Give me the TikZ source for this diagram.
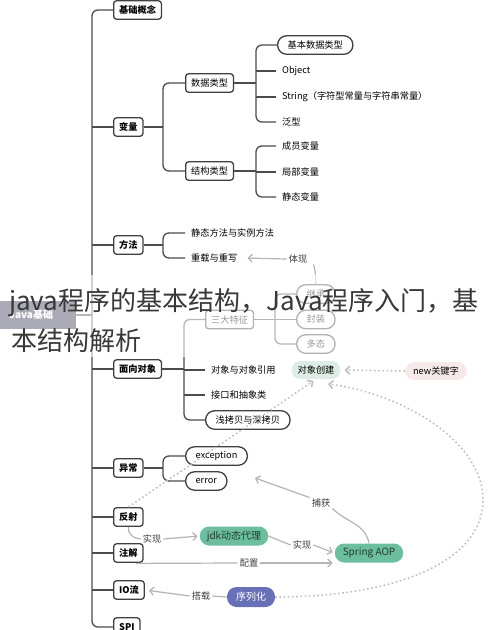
\documentclass[tikz,border=0pt]{standalone}
\usepackage{fontspec}
\setmainfont{Noto Sans CJK SC}
\usetikzlibrary{arrows.meta,calc}
\definecolor{treeline}{HTML}{4C4C4C}
\definecolor{boxline}{HTML}{404040}
\definecolor{gline}{HTML}{B4B4B4}
\definecolor{dotc}{HTML}{BDBDBD}
\definecolor{lbl}{HTML}{3E3E3E}
\definecolor{aopgreen}{HTML}{6DBE9E}
\definecolor{aoptext}{HTML}{1F3D30}
\definecolor{serblue}{HTML}{6870B8}
\definecolor{objgreen}{HTML}{DDEDE5}
\definecolor{newpink}{HTML}{F5E9E9}
\definecolor{rootfill}{HTML}{2E2E4E}
\definecolor{wmtext}{HTML}{383838}
\begin{document}
\begin{tikzpicture}[x=1pt,y=-1pt,
  font=\fontsize{9.2}{11}\selectfont,
  tree/.style={draw=treeline,line width=1.3pt,rounded corners=6pt},
  lvlbox/.style={draw=boxline,line width=1.3pt,rounded corners=3pt,fill=white,
    inner xsep=5.5pt,inner ysep=0pt,minimum height=18.5pt,anchor=west,
    font=\fontsize{9.2}{11}\selectfont\bfseries},
  subbox/.style={draw=boxline,line width=1.3pt,rounded corners=3pt,fill=white,
    inner xsep=5.5pt,inner ysep=0pt,minimum height=18.5pt,anchor=west},
  pillbox/.style={draw=boxline,line width=1.3pt,rounded corners=9pt,fill=white,
    inner xsep=10pt,inner ysep=0pt,minimum height=18.5pt,anchor=west},
  leaftxt/.style={inner xsep=6pt,inner ysep=1pt,anchor=west},
  lbltxt/.style={text=lbl,inner xsep=2pt,inner ysep=1pt},
  softpill/.style={rounded corners=9pt,inner xsep=6pt,inner ysep=0pt,minimum height=18pt},
  colpill/.style={rounded corners=9.5pt,inner xsep=7pt,inner ysep=0pt,minimum height=19pt,
    font=\fontsize{10}{12}\selectfont},
  gl/.style={draw=gline,line width=1.2pt},
  garrow/.style={draw=gline,line width=1.2pt,-{Straight Barb[length=4pt,width=8pt]},shorten >=2pt},
  dotarr/.style={draw=dotc,line width=1.5pt,dash pattern=on 1.6pt off 2.6pt,
    -{Straight Barb[length=4pt,width=8pt]}}
]
\useasboundingbox (0,0) rectangle (490,630);
\fill[white] (0,0) rectangle (490,630);

% ---- root and level 1
\node[fill=rootfill,text=white,anchor=west,minimum width=70pt,minimum height=28pt,
  inner xsep=9pt,align=left,font=\fontsize{10}{12}\selectfont\bfseries] (root) at (0,315) {Java基础\hspace{14pt}};
\coordinate (J0) at (92,315);
\node[lvlbox] (jcgn) at (113,10) {基础概念};
\node[lvlbox] (bl) at (113,127) {变量};
\node[lvlbox] (ff) at (113,245) {方法};
\node[lvlbox] (mx) at (113,369) {面向对象};
\node[lvlbox] (yc) at (113,468) {异常};
\node[lvlbox] (fs) at (113,517) {反射};
\node[lvlbox] (zj) at (113,553) {注解};
\node[lvlbox] (io) at (113,590) {IO流};
\node[lvlbox] (spi) at (113,627) {SPI};

\draw[tree] (root.east) -- (J0);
\draw[tree] (jcgn.west) -| (J0) |- (spi.west);
\foreach \n in {bl,ff,mx,yc,fs,zj,io}{\draw[tree] (J0 |- \n.west) -- (\n.west);}

% ---- 变量
\coordinate (Jbl) at (163,127);
\node[subbox] (sjlx) at (185,83) {数据类型};
\node[subbox] (jglx) at (185,171) {结构类型};
\draw[tree] (bl.east) -- (Jbl);
\draw[tree] (sjlx.west) -| (Jbl) |- (jglx.west);

\coordinate (Jsj) at (256,83);
\node[pillbox] (jbsj) at (277,45) {基本数据类型};
\node[leaftxt] (obj) at (276,71) {Object};
\node[leaftxt] (str) at (276,97) {String（字符型常量与字符串常量）};
\node[leaftxt] (fx) at (276,122) {泛型};
\draw[tree] (sjlx.east) -- (Jsj);
\draw[tree] (jbsj.west) -| (Jsj) |- (fx.west);
\draw[tree] (Jsj |- obj.west) -- (obj.west);
\draw[tree] (Jsj |- str.west) -- (str.west);

\coordinate (Jjg) at (256,171);
\node[leaftxt] (cy) at (276,146) {成员变量};
\node[leaftxt] (jb) at (276,172) {局部变量};
\node[leaftxt] (jt) at (276,197) {静态变量};
\draw[tree] (jglx.east) -- (Jjg);
\draw[tree] (cy.west) -| (Jjg) |- (jt.west);
\draw[tree] (Jjg |- jb.west) -- (jb.west);

% ---- 方法
\coordinate (Jff) at (163,245);
\node[leaftxt] (jtff) at (185,233) {静态方法与实例方法};
\node[leaftxt] (cz) at (185,258) {重载与重写};
\draw[tree] (ff.east) -- (Jff);
\draw[tree] (jtff.west) -| (Jff) |- (cz.west);

% ---- 面向对象
\coordinate (Jmx) at (184,369);
\node[subbox] (sdtz) at (205,319.5) {三大特征};
\node[leaftxt] (dxyy) at (205,370) {对象与对象引用};
\node[leaftxt] (jk) at (205,395) {接口和抽象类};
\node[pillbox] (qkb) at (205,420) {浅拷贝与深拷贝};
\draw[tree] (mx.east) -- (Jmx);
\draw[tree] (sdtz.west) -| (Jmx) |- (qkb.west);
\draw[tree] (Jmx |- dxyy.west) -- (dxyy.west);
\draw[tree] (Jmx |- jk.west) -- (jk.west);

\coordinate (Jsd) at (275,319.5);
\node[pillbox] (jc) at (296,294) {继承};
\node[pillbox] (fz) at (296,319.5) {封装};
\node[pillbox] (dt) at (296,344) {多态};
\draw[tree] (sdtz.east) -- (Jsd);
\draw[tree] (jc.west) -| (Jsd) |- (dt.west);
\draw[tree] (Jsd |- fz.west) -- (fz.west);

\node[lbltxt] (tx) at (298,259) {体现};
\draw[garrow,shorten >=4pt] (tx.west) -- (cz.east);
\draw[gl] ($(tx.south east)+(4,0)$) to[out=-70,in=95] (jc.north);

\node[softpill,fill=objgreen] (dxcj) at (316,370) {对象创建};
\node[softpill,fill=newpink,inner xsep=8pt] (newk) at (436,371) {new关键字};

% ---- 异常
\coordinate (Jyc) at (163,468);
\node[pillbox] (exc) at (185,456) {exception};
\node[pillbox] (err) at (185,481) {error};
\draw[tree] (yc.east) -- (Jyc);
\draw[tree] (exc.west) -| (Jyc) |- (err.west);

% ---- coloured nodes
\node[colpill,fill=aopgreen,text=aoptext] (jdk) at (234,536) {jdk动态代理};
\node[colpill,fill=aopgreen,text=aoptext,inner xsep=8pt] (aop) at (369,553) {Spring AOP};
\node[colpill,fill=serblue,text=white,inner xsep=9pt,minimum height=20pt] (xlh) at (251,597) {序列化};

% ---- labelled grey connectors
\node[lbltxt] (sx1) at (152,539) {实现};
\draw[gl] (fs.south) to[out=-100,in=180] (sx1.west);
\draw[garrow] (sx1.east) -- (jdk.west);

\node[lbltxt] (sx2) at (302,545) {实现};
\draw[gl] (jdk.east) -- (sx2.west);
\draw[garrow] (sx2.east) -- (aop.west);

\node[lbltxt] (pz) at (249,563) {配置};
\draw[gl] ($(zj.south east)+(-8,0.5)$) -- (pz.west);
\draw[garrow] (pz.east) -- (pz.east -| aop.west);

\node[lbltxt] (bh) at (321,503) {捕获};
\coordinate (errtip) at (255,478);
\draw[gl] (aop.north) to[out=100,in=-45] (bh.south east);
\draw[garrow,shorten >=0pt] (bh.north west) -- (errtip);

\node[lbltxt] (dz) at (201,596) {搭载};
\draw[gl] (xlh.west) -- (dz.east);
\draw[garrow,shorten >=4pt] (dz.west) -- (io.east);

% ---- dotted connectors
\draw[dotarr,shorten >=4pt] (newk.west) -- (dxcj.east);
\draw[dotarr,shorten >=3pt] (fs.north) -- (dxcj.south);
\coordinate (ctip) at (328,384);
\draw[dotarr] (xlh.east) .. controls (400,597) and (483,560) .. (483,500)
  .. controls (483,440) and (400,393) .. (ctip);

% ---- overlay band and title text
\fill[white,opacity=0.6] (0,275) rectangle (490,357);
\node[anchor=base west,inner sep=0pt,text=wmtext,font=\fontsize{26}{30}\selectfont] (wm1) at (9,310) {java程序的基本结构，Java程序入门，基};
\node[anchor=base west,inner sep=0pt,text=wmtext,font=\fontsize{26}{30}\selectfont] (wm2) at (11,350) {本结构解析};
\end{tikzpicture}
\end{document}
